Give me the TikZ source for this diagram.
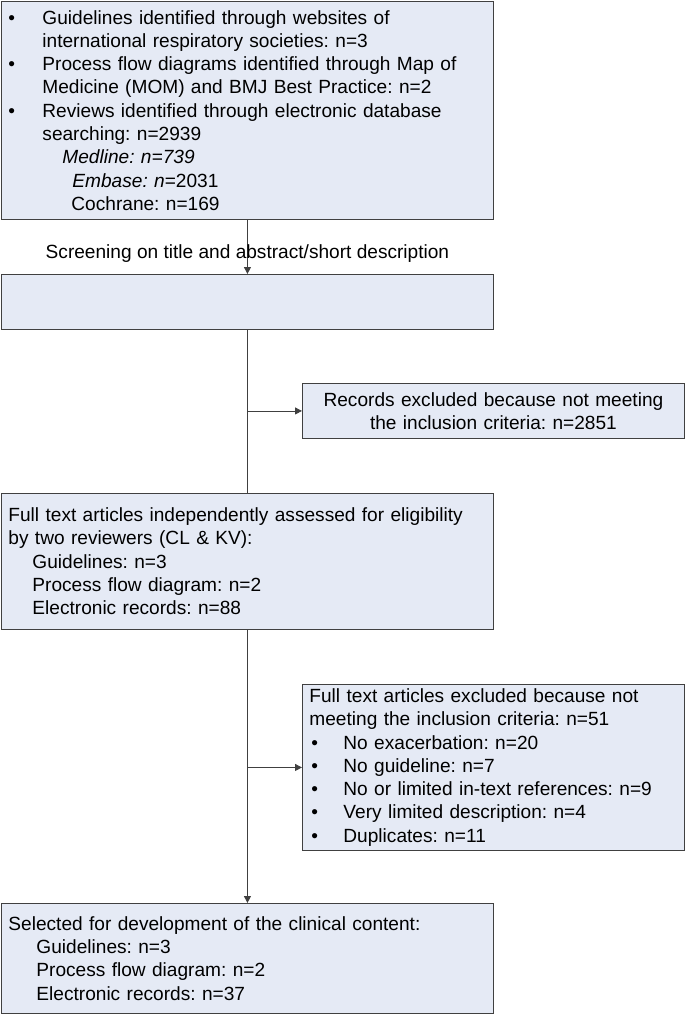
\documentclass[tikz,border=0pt]{standalone}
\usepackage{fontspec}
\setmainfont{Liberation Sans}
\usetikzlibrary{arrows.meta}
\definecolor{boxfill}{RGB}{229,234,245}

\begin{document}
\frenchspacing
\begin{tikzpicture}[x = 1pt, y = -1pt, font = \fontsize{19.1}{23.3}\selectfont,
        box/.style = {draw = black!75, fill = boxfill, line width = 0.9pt, anchor = north west,
            inner xsep = 7pt, inner ysep = 0pt, align = left},
        link/.style = {draw = black!75, line width = 0.9pt},
        arr/.style = {link, -{Triangle[length = 7pt, width = 7pt]}}]
        \useasboundingbox (0,0) rectangle (685,1014);
        
        \node[box, minimum width = 492, minimum height = 218, text width = 478] (search) at (1,1)
        {\makebox[34pt][l]{\textbullet}Guidelines identified through websites of\\
        \hspace*{34pt}international respiratory societies: n=3\\
        \makebox[34pt][l]{\textbullet}Process flow diagrams identified through Map of\\
        \hspace*{34pt}Medicine (MOM) and BMJ Best Practice: n=2\\
        \makebox[34pt][l]{\textbullet}Reviews identified through electronic database\\
        \hspace*{34pt}searching: n=2939\\
        \hspace*{54pt}\textit{Medline: n=739}\\
        \hspace*{64pt}\textit{Embase: n}=2031\\
        \hspace*{63pt}Cochrane: n=169};
        
        \node[box, minimum width = 492, minimum height = 55, text width = 478] (screen) at (1,274) {};
        
        \node[box, align = center, minimum width = 382, minimum height = 55, text width = 368] (excl) at (302,383)
        {Records excluded because not meeting\\
        the inclusion criteria: n=2851};
        
        \node[box, minimum width = 492, minimum height = 136, text width = 478] (full) at (1,493)
        {Full text articles independently assessed for eligibility\\
        by two reviewers (CL \& KV):\\
        \hspace*{24pt}Guidelines: n=3\\
        \hspace*{24pt}Process flow diagram: n=2\\
        \hspace*{24pt}Electronic records: n=88};
        
        \node[box, minimum width = 382, minimum height = 166, text width = 368] (fullexcl) at (302,684)
        {Full text articles excluded because not\\
        meeting the inclusion criteria: n=51\\
        \hspace*{2pt}\makebox[32pt][l]{\textbullet}No exacerbation: n=20\\
        \hspace*{2pt}\makebox[32pt][l]{\textbullet}No guideline: n=7\\
        \hspace*{2pt}\makebox[32pt][l]{\textbullet}No or limited in-text references: n=9\\
        \hspace*{2pt}\makebox[32pt][l]{\textbullet}Very limited description: n=4\\
        \hspace*{2pt}\makebox[32pt][l]{\textbullet}Duplicates: n=11};
        
        \node[box, minimum width = 492, minimum height = 110, text width = 478] (incl) at (1,903)
        {Selected for development of the clinical content:\\
        \hspace*{28pt}Guidelines: n=3\\
        \hspace*{28pt}Process flow diagram: n=2\\
        \hspace*{28pt}Electronic records: n=37};
        
        \draw[arr] (search.south) -- node[pos = 0.63] (screenlbl)
        {Screening on title and abstract/short description} (screen.north);
        \draw[link] (screen.south) -- (full.north);
        \draw[arr] (screen.south |- excl.west) -- (excl.west);
        \draw[arr] (full.south) -- (incl.north);
        \draw[arr] (full.south |- fullexcl.west) -- (fullexcl.west);
    \end{tikzpicture}
\end{document}
